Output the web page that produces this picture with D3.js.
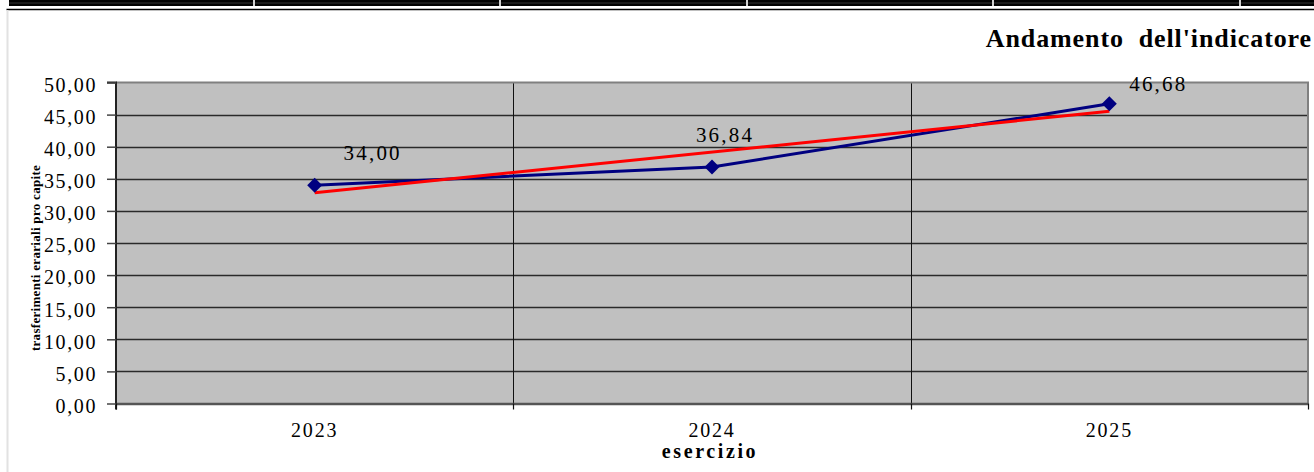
<!DOCTYPE html>
<html>
<head>
<meta charset="utf-8">
<script src="https://cdn.jsdelivr.net/npm/d3@7"></script>
<style>
  html, body { margin: 0; padding: 0; background: #ffffff; }
  svg { display: block; }
  svg text { font-family: "Liberation Serif"; }
</style>
</head>
<body>
<svg id="chart" width="1314" height="472"></svg>
<script>
// Values of the indicator per financial year
const years = ["2023", "2024", "2025"];
const values = [34.00, 36.84, 46.68];
const yTicks = [0, 5, 10, 15, 20, 25, 30, 35, 40, 45, 50];

const title = "Andamento  dell'indicatore";
const yTitle = "trasferimenti erariali pro capite";
const xTitle = "esercizio";

// Where each value label sits relative to its marker (dx, dy)
const labelOffsets = [[58, -25], [13, -25], [49, -13]];

const FONT = '"Liberation Serif"';

const it = d3.formatLocale({ decimal: ",", thousands: ".", grouping: [3], currency: ["€", ""] });
const fmt = it.format(".2f");

const svg = d3.select("#chart");
const W = 1314, H = 472;
const plot = { left: 116, right: 1308, top: 82.5, bottom: 403.5 };

// Sheet frame around the chart object
svg.append("rect").attr("x", 9).attr("y", 0).attr("width", W - 9).attr("height", 6).attr("fill", "#000");
svg.append("line").attr("x1", 9).attr("x2", W).attr("y1", 3).attr("y2", 3).attr("stroke", "#333").attr("stroke-width", 1);
[254, 500, 747, 993, 1240].forEach(x => {
  svg.append("line").attr("x1", x).attr("x2", x).attr("y1", 0).attr("y2", 6)
    .attr("stroke", "#d0d0d0").attr("stroke-width", 2);
});
svg.append("line").attr("x1", 6.5).attr("x2", W).attr("y1", 9.5).attr("y2", 9.5).attr("stroke", "#000").attr("stroke-width", 1.5);
svg.append("line").attr("x1", 7.5).attr("x2", 7.5).attr("y1", 10).attr("y2", H).attr("stroke", "#e2e2e2").attr("stroke-width", 2);

const x = d3.scaleBand().domain(years).range([plot.left, plot.right]).padding(0);
const y = d3.scaleLinear().domain([0, 50]).range([plot.bottom, plot.top]);

// Plot background
svg.append("rect")
  .attr("x", plot.left).attr("y", plot.top)
  .attr("width", plot.right - plot.left).attr("height", plot.bottom - plot.top)
  .attr("fill", "#c0c0c0");

// Horizontal gridlines
svg.append("g").selectAll("line")
  .data(yTicks.filter(v => v > 0 && v < 50))
  .join("line")
  .attr("x1", plot.left).attr("x2", plot.right)
  .attr("y1", d => Math.round(y(d)) + 0.5).attr("y2", d => Math.round(y(d)) + 0.5)
  .attr("stroke", "#2a2a2a").attr("stroke-width", 1.3);

// Vertical gridlines between categories
svg.append("g").selectAll("line")
  .data(years.slice(1))
  .join("line")
  .attr("x1", d => Math.round(x(d)) + 0.5).attr("x2", d => Math.round(x(d)) + 0.5)
  .attr("y1", plot.top).attr("y2", plot.bottom)
  .attr("stroke", "#111").attr("stroke-width", 1);

// Plot border (top and right)
svg.append("path")
  .attr("d", `M${plot.left},${plot.top}H${plot.right}V${plot.bottom}`)
  .attr("fill", "none").attr("stroke", "#808080").attr("stroke-width", 2);

// Y axis
const yAxis = d3.axisLeft(y).tickValues(yTicks).tickFormat(fmt).tickSize(9).tickPadding(10);
const gy = svg.append("g").attr("transform", `translate(${plot.left},0)`).call(yAxis)
  .attr("font-family", null).attr("font-size", null);
gy.select(".domain").attr("stroke", "#222").attr("stroke-width", 2)
  .attr("d", `M-9,${plot.top}H0V${plot.bottom + 6}`);
gy.selectAll(".tick line").attr("stroke", "#444").attr("stroke-width", 1.5);
gy.selectAll(".tick text")
  .style("font-family", FONT).style("font-size", "20px").style("letter-spacing", "1.6px")
  .attr("fill", "#000").attr("dy", "0.44em");

// X axis
const xAxis = d3.axisBottom(x).tickSize(0).tickPadding(0);
const gx = svg.append("g").attr("transform", `translate(0,${plot.bottom})`).call(xAxis)
  .attr("font-family", null).attr("font-size", null);
gx.select(".domain").attr("stroke", "#555").attr("stroke-width", 2.5);
gx.selectAll(".tick text")
  .style("font-family", FONT).style("font-size", "20px").style("letter-spacing", "1.8px")
  .attr("fill", "#000").attr("y", 33).attr("dy", 0);
// Category boundary ticks
gx.append("g").selectAll("line")
  .data(years.map(d => x(d)).concat([plot.right]))
  .join("line")
  .attr("x1", d => Math.round(d) + 0.5).attr("x2", d => Math.round(d) + 0.5)
  .attr("y1", 0).attr("y2", 6)
  .attr("stroke", "#111").attr("stroke-width", 1.2);

// Data series
const pts = years.map((yr, i) => ({ year: yr, value: values[i], cx: x(yr) + x.bandwidth() / 2 }));

svg.append("path")
  .datum(pts)
  .attr("fill", "none").attr("stroke", "#000080").attr("stroke-width", 3)
  .attr("stroke-linejoin", "round")
  .attr("d", d3.line().x(d => d.cx).y(d => y(d.value)));

// Linear trendline (least squares over the category index)
const idx = values.map((_, i) => i + 1);
const mx = d3.mean(idx), my = d3.mean(values);
const slope = d3.sum(idx, (t, i) => (t - mx) * (values[i] - my)) / d3.sum(idx, t => (t - mx) ** 2);
const intercept = my - slope * mx;
const trend = [pts[0], pts[pts.length - 1]].map(p => ({ cx: p.cx, value: intercept + slope * (years.indexOf(p.year) + 1) }));

svg.append("path")
  .datum(trend)
  .attr("fill", "none").attr("stroke", "#ff0000").attr("stroke-width", 3)
  .attr("d", d3.line().x(d => d.cx).y(d => y(d.value)));

// Diamond markers
svg.append("g").selectAll("path")
  .data(pts)
  .join("path")
  .attr("transform", d => `translate(${d.cx},${y(d.value)})`)
  .attr("d", "M0,-7.5L7.5,0L0,7.5L-7.5,0Z")
  .attr("fill", "#000080");

// Value labels
svg.append("g").selectAll("text")
  .data(pts)
  .join("text")
  .attr("x", (d, i) => d.cx + labelOffsets[i][0])
  .attr("y", (d, i) => y(d.value) + labelOffsets[i][1])
  .attr("text-anchor", "middle")
  .style("font-family", FONT).style("font-size", "21px").style("letter-spacing", "2.2px")
  .attr("fill", "#000")
  .text(d => fmt(d.value));

// Titles
svg.append("text")
  .attr("x", 1312).attr("y", 47)
  .attr("text-anchor", "end")
  .style("font-family", FONT).style("font-size", "26px").style("font-weight", "bold")
  .style("letter-spacing", "0.9px").style("white-space", "pre")
  .text(title);

svg.append("text")
  .attr("transform", `translate(39.5,258) rotate(-90)`)
  .attr("text-anchor", "middle")
  .style("font-family", FONT).style("font-size", "13px").style("font-weight", "bold")
  .style("letter-spacing", "0.3px")
  .text(yTitle);

svg.append("text")
  .attr("x", (plot.left + plot.right) / 2 - 2).attr("y", 458)
  .attr("text-anchor", "middle")
  .style("font-family", FONT).style("font-size", "20px").style("font-weight", "bold")
  .style("letter-spacing", "2.6px")
  .text(xTitle);
</script>
</body>
</html>
